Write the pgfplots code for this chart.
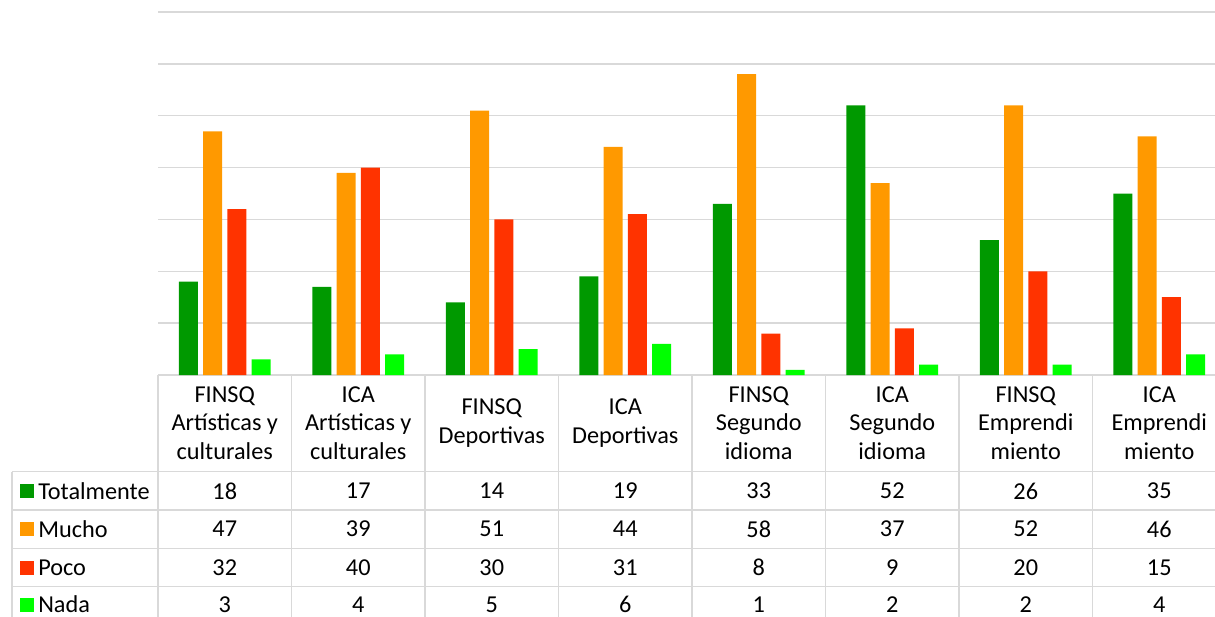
\documentclass[border=0pt]{standalone}
\usepackage{fontspec}
\setmainfont{Carlito}
\usepackage{pgfplots}
\usepackage{pgfplotstable}
\pgfplotsset{compat=1.18}
\definecolor{cT}{RGB}{0,153,0}
\definecolor{cM}{RGB}{255,153,0}
\definecolor{cP}{RGB}{255,51,0}
\definecolor{cN}{RGB}{0,255,0}
\definecolor{gridgray}{RGB}{217,217,217}
\pgfplotstableread{
x T M P N
0 18 47 32 3
1 17 39 40 4
2 14 51 30 5
3 19 44 31 6
4 33 58 8 1
5 52 37 9 2
6 26 52 20 2
7 35 46 15 4
}\data
\begin{document}
\fontsize{18.2}{21.5}\selectfont
\begin{tikzpicture}
\useasboundingbox (0,0) rectangle (911.25pt,-462.75pt);
\clip (0,0) rectangle (911.25pt,-462.75pt);
\begin{axis}[
  at={(118.5pt,-281.25pt)}, anchor=south west,
  scale only axis, width=801pt, height=272.25pt,
  xmin=-0.5, xmax=7.5, ymin=0, ymax=70,
  ybar=3.9pt, bar width=14.25pt,
  ytick={0,10,...,70}, yticklabels={}, xtick=\empty,
  ymajorgrids, grid style={line width=1.1pt, color=gridgray},
  axis line style={draw=none}, major tick length=0pt,
  clip=false,
]
\addplot[fill=cT, draw=none] table[x=x,y=T]{\data};
\addplot[fill=cM, draw=none] table[x=x,y=M]{\data};
\addplot[fill=cP, draw=none] table[x=x,y=P]{\data};
\addplot[fill=cN, draw=none] table[x=x,y=N]{\data};
\end{axis}
\begin{scope}[x=0.75pt, y=-0.75pt]
\foreach \yy in {471.5,510,548.3,586.7} \draw[gridgray, line width=1.1pt] (12,\yy) -- (1230,\yy);
\draw[gridgray, line width=1.1pt] (12,471.5) -- (12,630);
\foreach \k in {0,...,8} \draw[gridgray, line width=1.1pt] ({158+\k*133.5},375) -- ({158+\k*133.5},630);
\foreach \t [count=\i from 0] in {{FINSQ\\Artísticas y\\culturales},{ICA\\Artísticas y\\culturales},{FINSQ\\Deportivas},{ICA\\Deportivas},{FINSQ\\Segundo\\idioma},{ICA\\Segundo\\idioma},{FINSQ\\Emprendi\\miento},{ICA\\Emprendi\\miento}}
  \node[align=center, inner sep=0pt] at ({224.75+\i*133.5},423) {\t};
\foreach \v [count=\i from 0] in {18,17,14,19,33,52,26,35} \node[inner sep=0pt] at ({224.75+\i*133.5},491) {\v};
\foreach \v [count=\i from 0] in {47,39,51,44,58,37,52,46} \node[inner sep=0pt] at ({224.75+\i*133.5},529) {\v};
\foreach \v [count=\i from 0] in {32,40,30,31,8,9,20,15} \node[inner sep=0pt] at ({224.75+\i*133.5},567.5) {\v};
\foreach \v [count=\i from 0] in {3,4,5,6,1,2,2,4} \node[inner sep=0pt] at ({224.75+\i*133.5},604.5) {\v};
\foreach \c/\n/\yy in {cT/Totalmente/491, cM/Mucho/529, cP/Poco/567.5, cN/Nada/604.5} {
  \fill[\c] (19.5,\yy-7) rectangle (33.5,\yy+7);
  \node[anchor=west, inner sep=0pt] at (38,\yy) {\n};
}
\end{scope}
\end{tikzpicture}
\end{document}
